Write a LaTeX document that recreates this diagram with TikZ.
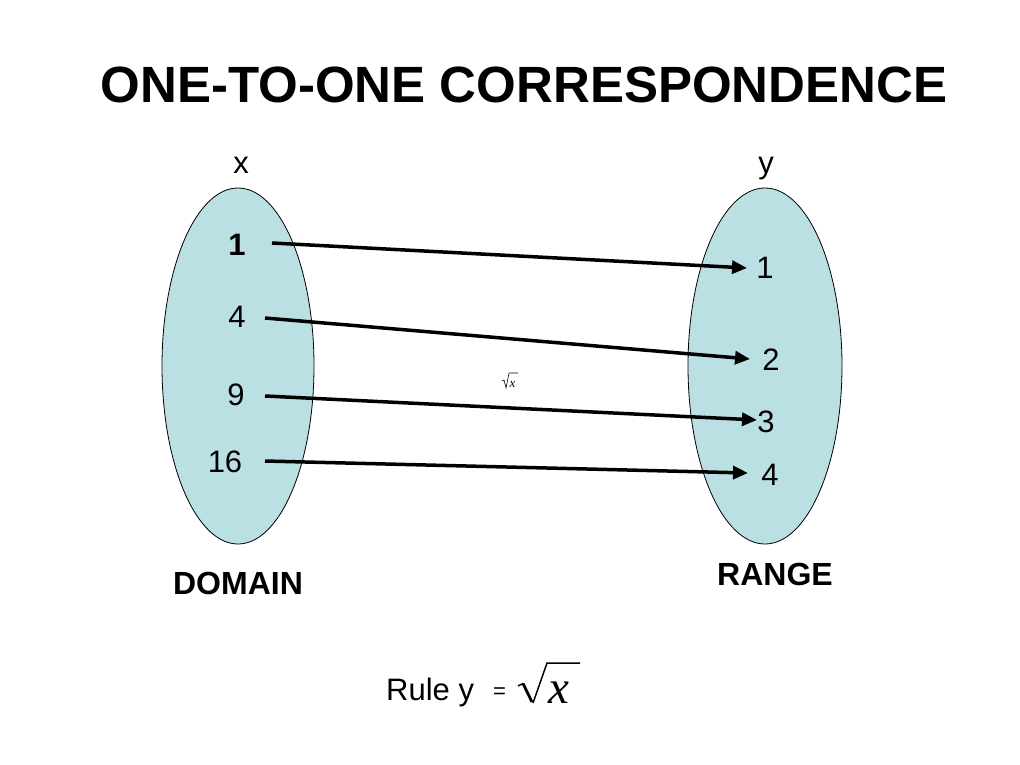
\documentclass[tikz,border=0pt]{standalone}
\usepackage{fontspec}
\setmainfont{Liberation Sans}
\newfontfamily\seriffont{Liberation Serif}
\usetikzlibrary{arrows.meta}
\definecolor{setfill}{HTML}{BBE0E3}
\begin{document}
\begin{tikzpicture}[x=1pt,y=-1pt,
  setshape/.style={draw=black,line width=0.8pt,fill=setfill},
  num/.style={font=\fontsize{31}{31}\selectfont,inner sep=0pt},
  lbl/.style={font=\fontsize{32}{32}\selectfont\bfseries,inner sep=0pt},
  mapping/.style={line width=3.5pt,-{Triangle[length=15pt,width=13pt]}},
  radical/.style={line width=2.8pt,line join=miter}]
\useasboundingbox[fill=white] (0,0) rectangle (1020,765);
\node[inner sep=0pt,font=\fontsize{51}{51}\selectfont\bfseries] (title) at (524,85) {ONE-TO-ONE CORRESPONDENCE};
\filldraw[setshape] (238,366) ellipse [x radius=76, y radius=178];
\filldraw[setshape] (765,366) ellipse [x radius=77, y radius=178];
\node[num,anchor=base] (xl) at (241,174) {x};
\node[num,anchor=base] (yl) at (766,174) {y};
\node[num] (l1) at (237,245) {\textbf{1}};
\node[num] (l4) at (237,317) {4};
\node[num] (l9) at (236,395) {9};
\node[num] (l16) at (225,462) {16};
\node[num] (r1) at (765,268) {1};
\node[num] (r2) at (771,360) {2};
\node[num] (r3) at (766,422) {3};
\node[num] (r4) at (770,475) {4};
\coordinate (s1) at (272,243); \coordinate (e1) at (747,268);
\coordinate (s2) at (265,318); \coordinate (e2) at (750,359);
\coordinate (s3) at (265,396); \coordinate (e3) at (757,420);
\coordinate (s4) at (265,461); \coordinate (e4) at (748,473);
\draw[mapping] (s1) -- (e1);
\draw[mapping] (s2) -- (e2);
\draw[mapping] (s3) -- (e3);
\draw[mapping] (s4) -- (e4);
% small radical label
\draw[line width=0.6pt] (502,381) -- (504,380) -- (506,388) -- (509,373) -- (518,373);
\node[inner sep=0pt,font=\fontsize{13}{13}\seriffont\itshape,anchor=base west] (rl) at (509.5,387) {x};
\node[lbl] (dom) at (238,583) {DOMAIN};
\node[lbl] (rng) at (775,574) {RANGE};
\node[inner sep=0pt,font=\fontsize{31}{31}\selectfont,anchor=base west] (rule) at (386,700) {Rule y};
\node[inner sep=0pt,font=\fontsize{22}{22}\selectfont,anchor=base west] (eq) at (493,698) {=};
\draw[line width=1.5pt] (518,686) -- (523,683.5);
\draw[radical] (523,683.5) -- (532,702);
\draw[line width=1.5pt] (533,703) -- (547,663) -- (580,663);
\node[inner sep=0pt,font=\fontsize{47}{47}\seriffont\itshape,anchor=base west] (sx) at (548,703) {x};
\end{tikzpicture}
\end{document}
